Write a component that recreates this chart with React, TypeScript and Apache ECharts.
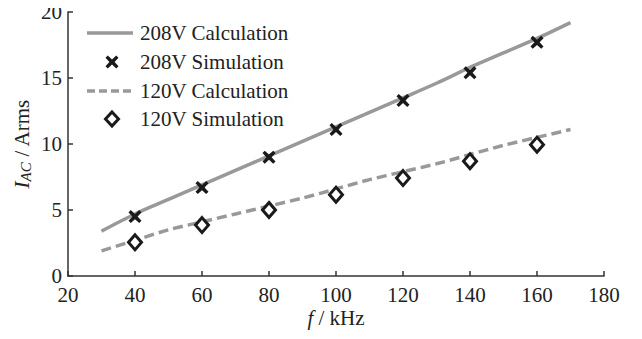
import React, { useEffect, useRef } from "react";
import * as echarts from "echarts";

const calcFreq = [30, 40, 50, 60, 70, 80, 90, 100, 110, 120, 130, 140, 150, 160, 170];
const calc208 = [3.4, 4.7, 5.8, 6.9, 8.0, 9.1, 10.2, 11.3, 12.4, 13.5, 14.6, 15.8, 16.9, 18.0, 19.2];
const calc120 = [1.9, 2.7, 3.5, 4.1, 4.7, 5.3, 5.9, 6.6, 7.3, 7.9, 8.5, 9.2, 9.9, 10.5, 11.1];
const simFreq = [40, 60, 80, 100, 120, 140, 160];
const sim208 = [4.5, 6.7, 9.0, 11.1, 13.3, 15.4, 17.7];
const sim120 = [2.55, 3.86, 5.0, 6.16, 7.42, 8.7, 9.95];
const seriesNames = ["208V Calculation", "208V Simulation", "120V Calculation", "120V Simulation"];

const FONT = "Liberation Serif";
const FS = 21;
const TXT = "#222";
const LINE_C = "#999";
const MARK_C = "#1a1a1a";
const CROSS = "path://M3.5,0 L10,6 L16.5,0 L20,3.5 L14,10 L20,16.5 L16.5,20 L10,14 L3.5,20 L0,16.5 L6,10 L0,3.5 Z";

function crossPoints(cx: number, cy: number, r: number) {
  const p = [[3.5, 0], [10, 6], [16.5, 0], [20, 3.5], [14, 10], [20, 16.5], [16.5, 20], [10, 14], [3.5, 20], [0, 16.5], [6, 10], [0, 3.5]];
  return p.map(([x, y]) => [cx + ((x - 10) / 10) * r, cy + ((y - 10) / 10) * r]);
}

export default function App() {
  const ref = useRef<HTMLDivElement>(null);
  useEffect(() => {
    const chart = echarts.init(ref.current!, null, { renderer: "svg" });
    const zip = (xs: number[], ys: number[]) => xs.map((x, i) => [x, ys[i]]);
    const lx0 = 87, lx1 = 133, lxc = 112, tx = 140;
    const rows = [33, 62, 91, 119];
    const legendText = seriesNames.map((n, i) => ({
      type: "text",
      x: tx,
      y: rows[i],
      style: { text: n, fontFamily: FONT, fontSize: FS, fill: TXT, verticalAlign: "middle", align: "left" },
    }));
    chart.setOption({
      animation: false,
      backgroundColor: "#ffffff",
      textStyle: { fontFamily: FONT },
      grid: { left: 68, right: 38, top: 12, bottom: 63, containLabel: false, outerBoundsMode: "none" },
      graphic: [
        { type: "line", shape: { x1: lx0, y1: rows[0], x2: lx1, y2: rows[0] }, style: { stroke: LINE_C, lineWidth: 3.5 } },
        { type: "polygon", shape: { points: crossPoints(lxc, rows[1], 6.5) }, style: { fill: MARK_C } },
        { type: "line", shape: { x1: lx0, y1: rows[2], x2: lx1, y2: rows[2] }, style: { stroke: LINE_C, lineWidth: 3.5, lineDash: [8, 4] } },
        {
          type: "polygon",
          shape: { points: [[lxc, rows[3] - 7], [lxc + 6.5, rows[3]], [lxc, rows[3] + 7], [lxc - 6.5, rows[3]]] },
          style: { fill: "#fff", stroke: MARK_C, lineWidth: 3 },
        },
        ...legendText,
      ],
      xAxis: {
        type: "value",
        min: 20,
        max: 180,
        interval: 20,
        name: "{i|f} / kHz",
        nameLocation: "middle",
        nameGap: 31,
        nameMoveOverlap: false,
        nameTextStyle: {
          fontFamily: FONT,
          fontSize: FS,
          color: TXT,
          rich: { i: { fontFamily: FONT, fontSize: FS, fontStyle: "italic", color: TXT } },
        },
        splitLine: { show: false },
        axisLine: { lineStyle: { color: "#333", width: 1.5 } },
        axisTick: { inside: true, length: 5, lineStyle: { color: "#333", width: 1.5 } },
        axisLabel: { fontFamily: FONT, fontSize: FS, color: TXT, margin: 8 },
      },
      yAxis: {
        type: "value",
        min: 0,
        max: 20,
        interval: 5,
        name: "{i|I}{s|AC} / Arms",
        nameLocation: "middle",
        nameGap: 35,
        nameMoveOverlap: false,
        nameRotate: 90,
        nameTextStyle: {
          fontFamily: FONT,
          fontSize: FS,
          color: TXT,
          rich: {
            i: { fontFamily: FONT, fontSize: 22, fontStyle: "italic", color: TXT },
            s: { fontFamily: FONT, fontSize: 15, fontStyle: "italic", color: TXT, verticalAlign: "bottom", padding: [8, 0, 0, 0] },
          },
        },
        splitLine: { show: false },
        axisLine: { lineStyle: { color: "#333", width: 1.5 } },
        axisTick: { inside: true, length: 5, lineStyle: { color: "#333", width: 1.5 } },
        axisLabel: { fontFamily: FONT, fontSize: FS, color: TXT, margin: 6 },
      },
      series: [
        {
          name: seriesNames[0],
          type: "line",
          data: zip(calcFreq, calc208),
          symbol: "none",
          smooth: 0.3,
          lineStyle: { color: LINE_C, width: 3.5 },
          z: 2,
        },
        {
          name: seriesNames[1],
          type: "scatter",
          data: zip(simFreq, sim208),
          symbol: CROSS,
          symbolSize: 13,
          itemStyle: { color: MARK_C, opacity: 1 },
          z: 3,
        },
        {
          name: seriesNames[2],
          type: "line",
          data: zip(calcFreq, calc120),
          symbol: "none",
          smooth: 0.3,
          lineStyle: { color: LINE_C, width: 3.5, type: [10, 5] },
          z: 2,
        },
        {
          name: seriesNames[3],
          type: "scatter",
          data: zip(simFreq, sim120),
          symbol: "diamond",
          symbolSize: [13, 15],
          itemStyle: { color: "#ffffff", borderColor: MARK_C, borderWidth: 3, opacity: 1 },
          z: 3,
        },
      ],
    });
    return () => chart.dispose();
  }, []);
  return <div ref={ref} style={{ width: 642, height: 339, margin: -8 }} />;
}
